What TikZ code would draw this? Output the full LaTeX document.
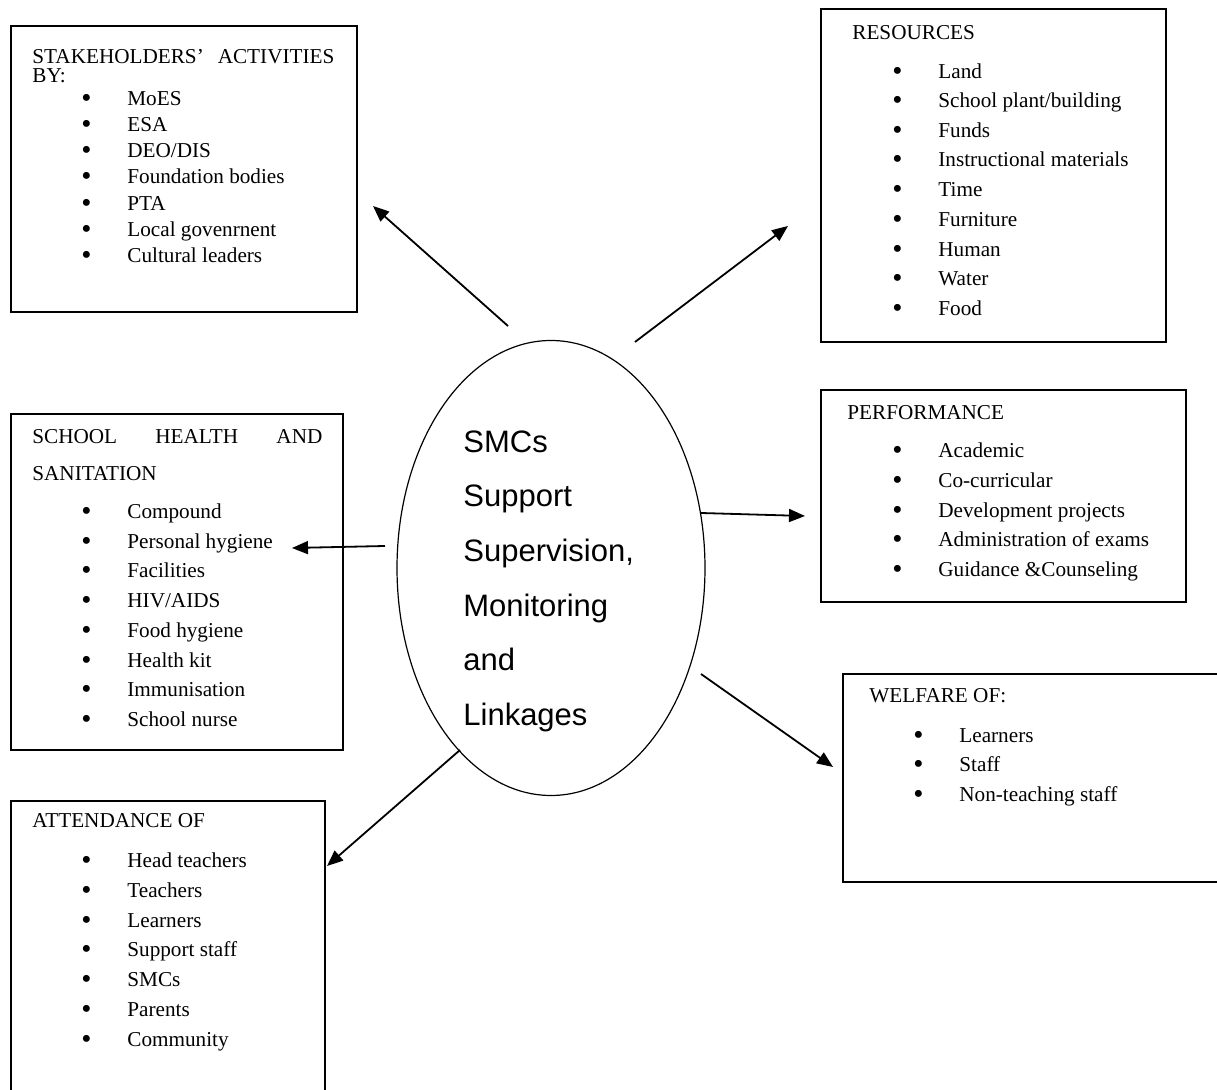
\documentclass[tikz,border=0pt]{standalone}
\usepackage{fontspec}
\setmainfont{Liberation Serif}
\setsansfont{Liberation Sans}
\usetikzlibrary{shapes.geometric, arrows.meta}

\begin{document}
\begin{tikzpicture}[x=0.5pt, y=-0.5pt,
    panel/.style={line width=0.7pt},
    head/.style={anchor=base west, inner sep=0pt, font=\fontsize{10.6}{12}\selectfont},
    item/.style={head, execute at begin node={\makebox[23pt][l]{\raisebox{-0.9pt}{\fontsize{14.5}{14.5}\selectfont\textbullet}}}},
    link/.style={line width=0.9pt, -{Triangle[length=8pt, width=6.5pt]}}]
    \useasboundingbox (0,0) rectangle (1217,1090);
    \clip (0,0) rectangle (1217,1090);

    % Boxes
    \draw[panel] (11,26) rectangle (357,312);
    \draw[panel] (821,9) rectangle (1166,342);
    \draw[panel] (11,414) rectangle (343,750);
    \draw[panel] (821,390) rectangle (1186,602);
    \draw[panel] (843,674) rectangle (1225,882);
    \draw[panel] (11,801) rectangle (325,1100);

    % Centre
    \node[draw, ellipse, line width=0.6pt, minimum width=154pt, minimum height=227.5pt, inner sep=0pt] (smc) at (551,568) {};
    \node[anchor=north west, inner sep=0pt, align=left, font=\sffamily\fontsize{15.5}{27.35}\selectfont] (smc-text) at (463,430) {SMCs\\Support\\Supervision,\\Monitoring\\and\\Linkages};

    % Stakeholders
    \node[head] (stk-t1) at (32,64) {\makebox[151pt][s]{STAKEHOLDERS’ ACTIVITIES}};
    \node[head] (stk-t2) at (32,83) {BY:};
    \node[item] (stk1) at (81,106) {MoES};
    \node[item] (stk2) at (81,132) {ESA};
    \node[item] (stk3) at (81,158) {DEO/DIS};
    \node[item] (stk4) at (81,184) {Foundation bodies};
    \node[item] (stk5) at (81,211) {PTA};
    \node[item] (stk6) at (81,237) {Local govenrnent};
    \node[item] (stk7) at (81,263) {Cultural leaders};

    % Resources
    \node[head] (res-t) at (852,40) {RESOURCES};
    \node[item] (res1) at (892,79) {Land};
    \node[item] (res2) at (892,108) {School plant/building};
    \node[item] (res3) at (892,138) {Funds};
    \node[item] (res4) at (892,167) {Instructional materials};
    \node[item] (res5) at (892,197) {Time};
    \node[item] (res6) at (892,227) {Furniture};
    \node[item] (res7) at (892,257) {Human};
    \node[item] (res8) at (892,286) {Water};
    \node[item] (res9) at (892,316) {Food};

    % Health and sanitation
    \node[head] (hlt-t1) at (32,444) {\makebox[145pt][s]{SCHOOL HEALTH AND}};
    \node[head] (hlt-t2) at (32,481) {SANITATION};
    \node[item] (hlt1) at (81,519) {Compound};
    \node[item] (hlt2) at (81,549) {Personal hygiene};
    \node[item] (hlt3) at (81,578) {Facilities};
    \node[item] (hlt4) at (81,608) {HIV/AIDS};
    \node[item] (hlt5) at (81,638) {Food hygiene};
    \node[item] (hlt6) at (81,668) {Health kit};
    \node[item] (hlt7) at (81,697) {Immunisation};
    \node[item] (hlt8) at (81,727) {School nurse};

    % Performance
    \node[head] (prf-t) at (847,420) {PERFORMANCE};
    \node[item] (prf1) at (892,458) {Academic};
    \node[item] (prf2) at (892,488) {Co-curricular};
    \node[item] (prf3) at (892,518) {Development projects};
    \node[item] (prf4) at (892,547) {Administration of exams};
    \node[item] (prf5) at (892,577) {Guidance \&Counseling};

    % Welfare
    \node[head] (wlf-t) at (869,703) {WELFARE OF:};
    \node[item] (wlf1) at (913,743) {Learners};
    \node[item] (wlf2) at (913,772) {Staff};
    \node[item] (wlf3) at (913,802) {Non-teaching staff};

    % Attendance
    \node[head] (att-t) at (32,828) {ATTENDANCE OF};
    \node[item] (att1) at (81,868) {Head teachers};
    \node[item] (att2) at (81,898) {Teachers};
    \node[item] (att3) at (81,928) {Learners};
    \node[item] (att4) at (81,957) {Support staff};
    \node[item] (att5) at (81,987) {SMCs};
    \node[item] (att6) at (81,1017) {Parents};
    \node[item] (att7) at (81,1047) {Community};

    % Arrows
    \coordinate (stk-from) at (508,326); \coordinate (stk-to) at (373,206);
    \coordinate (res-from) at (635,342); \coordinate (res-to) at (788,226);
    \coordinate (hlt-from) at (385,546); \coordinate (hlt-to) at (292,548);
    \coordinate (prf-from) at (701,513); \coordinate (prf-to) at (805,516);
    \coordinate (wlf-from) at (701,674); \coordinate (wlf-to) at (833,767);
    \coordinate (att-from) at (460,750); \coordinate (att-to) at (327,866);
    \draw[link] (stk-from) -- (stk-to);
    \draw[link] (res-from) -- (res-to);
    \draw[link] (hlt-from) -- (hlt-to);
    \draw[link] (prf-from) -- (prf-to);
    \draw[link] (wlf-from) -- (wlf-to);
    \draw[link] (att-from) -- (att-to);
\end{tikzpicture}
\end{document}
